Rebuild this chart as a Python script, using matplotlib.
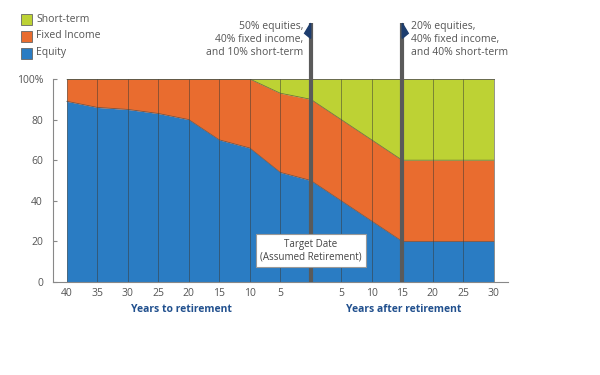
import numpy as np
import matplotlib
matplotlib.use("Agg")
from matplotlib import pyplot as plt
from matplotlib.patches import Polygon

plt.rcParams['font.family'] = ['Open Sans', 'DejaVu Sans']

# data: 40 years before retirement ... 30 years after
tick_labels = ["40", "35", "30", "25", "20", "15", "10", "5", "",
               "5", "10", "15", "20", "25", "30"]
equity = [89, 86, 85, 83, 80, 70, 66, 54, 50, 40, 30, 20, 20, 20, 20]
fixed_income = [11, 14, 15, 17, 20, 30, 34, 39, 40, 40, 40, 40, 40, 40, 40]
short_term = [0, 0, 0, 0, 0, 0, 0, 7, 10, 20, 30, 40, 40, 40, 40]
y_ticks = [0, 20, 40, 60, 80, 100]
y_tick_labels = ["0", "20", "40", "60", "80", "100%"]
legend_labels = ["Short-term", "Fixed Income", "Equity"]
markers_at = [8, 11]   # retirement, 15 years after

c_green = "#bdd234"
c_orange = "#e96c2f"
c_blue = "#2a7cc3"
c_grey = "#5a5a5a"
c_text = "#555555"
c_navy = "#1d3d6e"

x = np.arange(len(equity))
eq = np.array(equity)
fi = eq + np.array(fixed_income)
st = fi + np.array(short_term)

fig = plt.figure(figsize=(6, 3.75), dpi=100)
ax = fig.add_axes([52.7/600, 1-282/375, (508-52.7)/600, (282-79)/375])
ax.set_xlim(-0.46, 14.47)
ax.set_ylim(0, 100)

ax.fill_between(x, 0, eq, color=c_blue, lw=0)
ax.fill_between(x, eq, fi, color=c_orange, lw=0)
ax.fill_between(x, fi, st, color=c_green, lw=0)
ax.plot(x, eq, color="#3b4a55", lw=0.6, alpha=0.7)
ax.plot(x, fi, color="#4a4a3a", lw=0.6, alpha=0.7)
ax.plot(x, st, color="#4a4a3a", lw=0.7, alpha=0.8)
ax.vlines(x, 0, st, color="#3a3a34", lw=0.6, alpha=0.6)

# thick marker lines with flags
for i, m in enumerate(markers_at):
    ax.plot([m, m], [0, 127.5], color=c_grey, lw=3, clip_on=False,
            solid_capstyle="butt", zorder=5)
    d = -0.2 if i == 0 else 0.2
    tri = Polygon([[m, 127.5], [m, 120], [m + d, 122.5]], closed=True,
                  color=c_navy, clip_on=False, zorder=6)
    ax.add_patch(tri)

ax.text(7.75, 128.5, "50% equities,\n40% fixed income,\nand 10% short-term",
        ha="right", va="top", fontsize=7.5, color=c_text, linespacing=1.25)
ax.text(11.3, 128.5, "20% equities,\n40% fixed income,\nand 40% short-term",
        ha="left", va="top", fontsize=7.5, color=c_text, linespacing=1.25)

ax.text(8, 15.5, "Target Date\n(Assumed Retirement)", ha="center", va="center",
        fontsize=7, color="#444444", linespacing=1.2, zorder=7,
        bbox=dict(boxstyle="square,pad=0.45", fc="white", ec="#999999", lw=0.8))

# axes styling
for s in ["top", "right"]:
    ax.spines[s].set_visible(False)
ax.spines["left"].set_color("#888888")
ax.spines["bottom"].set_color("#888888")
ax.set_yticks(y_ticks)
ax.set_yticklabels(y_tick_labels)
ax.set_xticks(x)
ax.set_xticklabels(tick_labels)
ax.tick_params(axis="y", direction="in", length=3, color="#888888",
               labelsize=7.5, labelcolor=c_text, pad=7)
ax.tick_params(axis="x", length=0, labelsize=7.5, labelcolor=c_text, pad=4)

ax.text(3.75, -13.5, "Years to retirement", ha="center", va="center",
        fontsize=7.5, fontweight="bold", color="#21508e")
ax.text(11.05, -13.5, "Years after retirement", ha="center", va="center",
        fontsize=7.5, fontweight="bold", color="#21508e")

# legend
for i, (lab, col) in enumerate(zip(legend_labels, [c_green, c_orange, c_blue])):
    yc = 19 + 17 * i
    fig.patches.append(plt.Rectangle((21/600, 1-(yc+5.5)/375), 11/600, 11/375,
                                     transform=fig.transFigure, fc=col,
                                     ec="#666666", lw=0.6))
    fig.text(36/600, 1-yc/375, lab, ha="left", va="center", fontsize=7.5,
             color=c_text)

fig.savefig("out.png", dpi=100)
